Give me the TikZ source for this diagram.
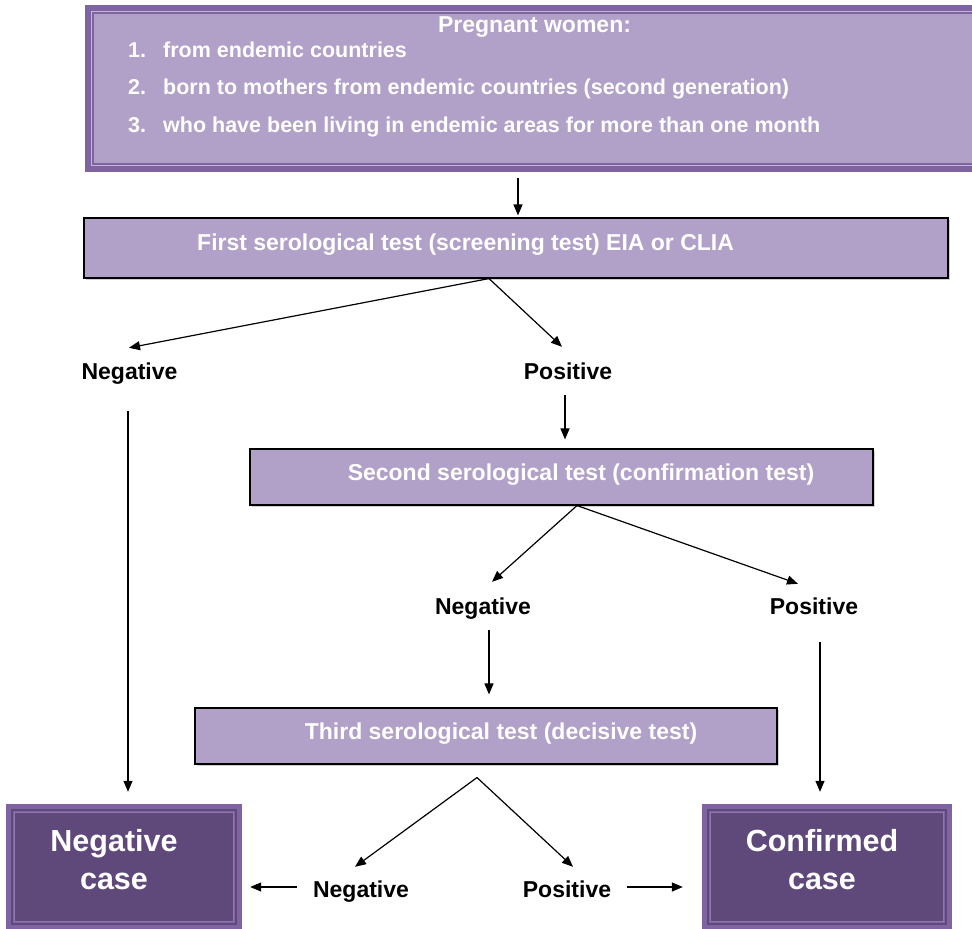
\documentclass[tikz,border=0pt]{standalone}
\usepackage{fontspec}
\setmainfont{Liberation Sans}
\usetikzlibrary{arrows.meta,calc,shadows}
\definecolor{band}{HTML}{8064A2}
\definecolor{lilac}{HTML}{B1A0C7}
\definecolor{plum}{HTML}{5F497A}
\definecolor{paleline}{HTML}{C3B5D8}
\definecolor{midline}{HTML}{8E76AE}
\begin{document}
\begin{tikzpicture}[x=1pt,y=-1pt,
  arr/.style={line width=1.2pt,-{Triangle[length=11pt,width=9pt]}},
  testbox/.style={rectangle,draw=black,line width=1.1pt,fill=lilac,inner sep=0pt,
    drop shadow={shadow xshift=2pt,shadow yshift=-2pt,opacity=0.3,fill=black!60}},
  paleframe/.style={rectangle,inner sep=0pt,fill=band,
    path picture={
      \draw[line width=1.3pt,paleline]
        ([shift={(6.5pt,-6.5pt)}]path picture bounding box.north west) rectangle
        ([shift={(-6.5pt,6.5pt)}]path picture bounding box.south east);
      \draw[line width=1.6pt,band,fill=lilac]
        ([shift={(8.4pt,-8.4pt)}]path picture bounding box.north west) rectangle
        ([shift={(-8.4pt,8.4pt)}]path picture bounding box.south east);
    }},
  caseframe/.style={rectangle,inner sep=0pt,fill=band,
    path picture={
      \draw[line width=1.5pt,plum]
        ([shift={(6.2pt,-6.2pt)}]path picture bounding box.north west) rectangle
        ([shift={(-6.2pt,6.2pt)}]path picture bounding box.south east);
      \draw[line width=1.2pt,midline,fill=plum]
        ([shift={(8.2pt,-8.2pt)}]path picture bounding box.north west) rectangle
        ([shift={(-8.2pt,8.2pt)}]path picture bounding box.south east);
    }},
  boxtext/.style={text=white,font=\fontsize{23}{27}\selectfont\bfseries,inner sep=0pt},
  itemtext/.style={text=white,font=\fontsize{21.5}{25}\selectfont\bfseries,inner sep=0pt,anchor=base west},
  lbl/.style={font=\fontsize{23}{27}\selectfont\bfseries,inner sep=0pt,text height=17pt,text depth=5pt,anchor=base},
  casetext/.style={text=white,font=\fontsize{30.5}{38}\selectfont\bfseries,align=center,inner sep=0pt}
]
\useasboundingbox (0,0) rectangle (972,929);

% boxes
\node[paleframe,minimum width=905pt,minimum height=167pt] (top) at (537.5,88.5) {};
\node[testbox,minimum width=864pt,minimum height=60pt] (first) at (516,248) {};
\node[testbox,minimum width=623pt,minimum height=56pt] (second) at (561.5,477) {};
\node[testbox,minimum width=582pt,minimum height=56pt] (third) at (486,736) {};
\node[caseframe,minimum width=236pt,minimum height=126pt] (negcase) at (124,867) {};
\node[caseframe,minimum width=250pt,minimum height=126pt] (confcase) at (827,867) {};

% box texts
\node[boxtext,anchor=base] (ttl) at (534.5,32) {Pregnant women:};
\node[itemtext] (i1) at (128,57) {\makebox[35pt][l]{1.}from endemic countries};
\node[itemtext] (i2) at (128,94) {\makebox[35pt][l]{2.}born to mothers from endemic countries (second generation)};
\node[itemtext] (i3) at (128,132) {\makebox[35pt][l]{3.}who have been living in endemic areas for more than one month};
\node[boxtext,anchor=base west] (t1) at (197,250.7) {First serological test (screening test) EIA or CLIA};
\node[boxtext,anchor=base] (t2) at (581,480) {Second serological test (confirmation test)};
\node[boxtext,anchor=base] (t3) at (501,739) {Third serological test (decisive test)};
\node[casetext] (negtxt) at (114,860) {Negative\\case};
\node[casetext] (conftxt) at (822,860) {Confirmed\\case};

% labels
\node[lbl] (neg1) at (129.5,379) {Negative};
\node[lbl] (pos1) at (568,379) {Positive};
\node[lbl] (neg2) at (483,614) {Negative};
\node[lbl] (pos2) at (814,614) {Positive};
\node[lbl] (neg3) at (361,897) {Negative};
\node[lbl] (pos3) at (567,897) {Positive};

% connectors
\draw[arr] ($(top.south -| first.north)+(2,6)$) -- ($(first.north)+(2,-2)$);

\coordinate (ap1) at ($(first.south)+(-27,0)$);
\draw[arr] (ap1) -- ($(neg1.north)+(-0.5,-14)$);
\draw[arr] (ap1) -- ($(pos1.north)+(-6,-15)$);
\draw[arr] ($(pos1.south)+(-3,11)$) -- ($(second.north -| pos1.south)+(-3,-9)$);
\draw[arr] ($(neg1.south)+(-1.5,27)$) -- ($(negcase.north -| neg1.south)+(-1.5,-12)$);

\coordinate (ap2) at ($(second.south)+(15.5,0)$);
\draw[arr] (ap2) -- ($(neg2.north)+(9,-15)$);
\draw[arr] (ap2) -- ($(pos2.north)+(-16,-13)$);
\draw[arr] ($(neg2.south)+(6,11)$) -- ($(third.north -| neg2.south)+(6,-13)$);
\draw[arr] ($(pos2.south)+(6,23)$) -- ($(confcase.north -| pos2.south)+(6,-12)$);

\coordinate (ap3) at ($(third.south)+(-9,13)$);
\draw[arr] (ap3) -- ($(neg3.north)+(-6,-13)$);
\draw[arr] (ap3) -- ($(pos3.north)+(6,-13)$);
\draw[arr] ($(neg3.west)+(-16,-4)$) -- ($(negcase.east |- neg3.west)+(8,-4)$);
\draw[arr] ($(pos3.east)+(16,-4)$) -- ($(confcase.west |- pos3.east)+(-19,-4)$);
\end{tikzpicture}
\end{document}
